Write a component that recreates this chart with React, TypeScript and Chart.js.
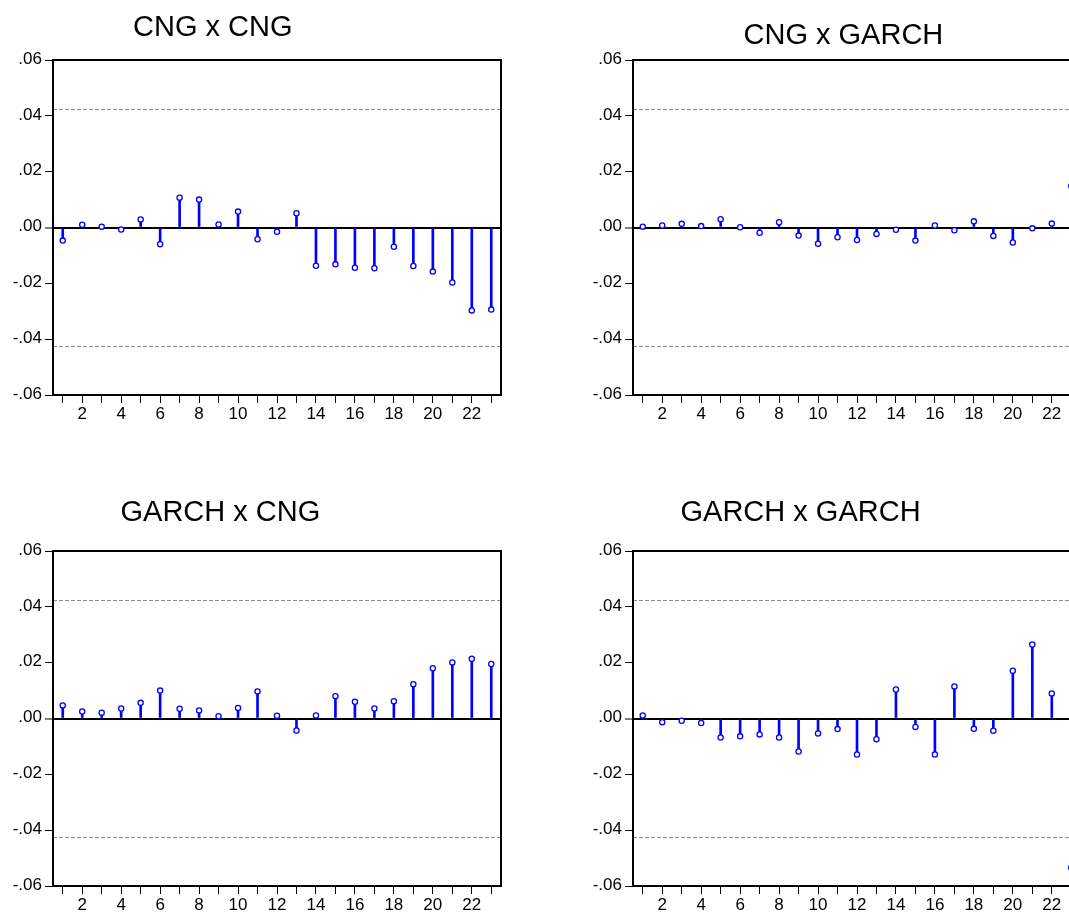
import React, { useEffect, useRef } from "react";
import { Chart, registerables } from "chart.js";

Chart.register(...registerables);

// ---- data ----
const LAGS = [1, 2, 3, 4, 5, 6, 7, 8, 9, 10, 11, 12, 13, 14, 15, 16, 17, 18, 19, 20, 21, 22, 23];
const X_TICK_LABELS = ["", "2", "", "4", "", "6", "", "8", "", "10", "", "12", "", "14", "", "16", "", "18", "", "20", "", "22", ""];
const Y_TICKS = [-0.06, -0.04, -0.02, 0, 0.02, 0.04, 0.06];
const Y_TICK_LABELS = ["-.06", "-.04", "-.02", ".00", ".02", ".04", ".06"];
const BAND = 0.0425;

const CNG_CNG = [
  -0.0047, 0.001, 0.0003, -0.0007, 0.0029, -0.006, 0.0107, 0.01, 0.0011, 0.0057, -0.0042, -0.0015,
  0.0051, -0.0137, -0.0132, -0.0144, -0.0146, -0.0069, -0.0138, -0.0158, -0.0197, -0.0297, -0.0294,
];
const CNG_GARCH = [
  0.0003, 0.0007, 0.0013, 0.0005, 0.003, 0.0001, -0.0019, 0.0019, -0.0029, -0.0058, -0.0035, -0.0045,
  -0.0023, -0.0008, -0.0047, 0.0007, -0.001, 0.0022, -0.003, -0.0054, -0.0003, 0.0014, 0.0149,
];
const GARCH_CNG = [
  0.0047, 0.0025, 0.0021, 0.0036, 0.0056, 0.01, 0.0035, 0.0029, 0.0008, 0.0038, 0.0097, 0.001,
  -0.0043, 0.0011, 0.008, 0.006, 0.0036, 0.0062, 0.0123, 0.018, 0.0201, 0.0214, 0.0195,
];
const GARCH_GARCH = [
  0.0011, -0.0013, -0.0008, -0.0016, -0.0068, -0.0064, -0.0057, -0.0068, -0.0118, -0.0054, -0.0038, -0.0129,
  -0.0074, 0.0104, -0.003, -0.0129, 0.0115, -0.0037, -0.0044, 0.0171, 0.0265, 0.009, -0.0534,
];

const TITLES = ["CNG x CNG", "CNG x GARCH", "GARCH x CNG", "GARCH x GARCH"];

const FONT = '"Liberation Sans", Arial, Helvetica, sans-serif';
const BLUE = "#0000ff";

const framePlugin = {
  id: "frame",
  beforeDatasetsDraw(chart: any) {
    const { ctx, chartArea, scales } = chart;
    const y = scales.y;
    ctx.save();
    ctx.strokeStyle = "#8c8c8c";
    ctx.lineWidth = 1;
    ctx.setLineDash([4, 2]);
    [BAND, -BAND].forEach((v) => {
      const py = Math.round(y.getPixelForValue(v)) + 0.5;
      ctx.beginPath();
      ctx.moveTo(chartArea.left, py);
      ctx.lineTo(chartArea.right, py);
      ctx.stroke();
    });
    ctx.restore();
  },
  afterDraw(chart: any) {
    const { ctx, chartArea } = chart;
    ctx.save();
    ctx.strokeStyle = "#000";
    ctx.lineWidth = 2;
    ctx.strokeRect(chartArea.left, chartArea.top, chartArea.right - chartArea.left, chartArea.bottom - chartArea.top);
    ctx.restore();
  },
};

function Panel({ values, left, top }: { values: number[]; left: number; top: number }) {
  const ref = useRef<HTMLCanvasElement | null>(null);
  useEffect(() => {
    if (!ref.current) return;
    const pts = LAGS.map((l, i) => ({ x: l, y: values[i] }));
    const chart = new Chart(ref.current, {
      type: "bar",
      data: {
        datasets: [
          {
            type: "scatter",
            data: pts,
            pointRadius: 2.6,
            pointBackgroundColor: "#ffffff",
            pointBorderColor: BLUE,
            pointBorderWidth: 1.3,
            order: 0,
          } as any,
          {
            type: "bar",
            data: pts,
            backgroundColor: BLUE,
            barThickness: 2,
            borderWidth: 0,
            order: 1,
          } as any,
        ],
      },
      options: {
        animation: false,
        responsive: false,
        maintainAspectRatio: false,
        events: [],
        layout: { padding: { left: 0, top: 60, right: 19, bottom: 5 } },
        plugins: { legend: { display: false }, tooltip: { enabled: false }, title: { display: false } },
        scales: {
          x: {
            type: "linear",
            offset: false,
            min: 0.5,
            max: 23.5,
            afterBuildTicks: (s: any) => {
              s.ticks = LAGS.map((v) => ({ value: v }));
            },
            afterFit: (s: any) => {
              s.height = 30;
            },
            ticks: {
              autoSkip: false,
              maxRotation: 0,
              callback: (_v: any, i: number) => X_TICK_LABELS[i],
              font: { family: FONT, size: 17 },
              color: "#000",
              padding: 1,
            },
            grid: { offset: false, drawOnChartArea: false, drawTicks: true, tickLength: 8, tickColor: "#000", tickWidth: 1 },
            border: { display: false },
          },
          y: {
            type: "linear",
            min: -0.06,
            max: 0.06,
            afterBuildTicks: (s: any) => {
              s.ticks = Y_TICKS.map((v) => ({ value: v }));
            },
            afterFit: (s: any) => {
              s.width = 53;
            },
            ticks: {
              callback: (_v: any, i: number) => Y_TICK_LABELS[i],
              font: { family: FONT, size: 17 },
              color: "#000",
              padding: 3,
              labelOffset: -1,
            },
            grid: {
              drawOnChartArea: true,
              color: (c: any) => (c.tick && c.tick.value === 0 ? "#000" : "rgba(0,0,0,0)"),
              lineWidth: (c: any) => (c.tick && c.tick.value === 0 ? 2 : 1),
              tickLength: 8,
              tickColor: "#000",
              tickWidth: 1,
            },
            border: { display: false },
          },
        },
      } as any,
      plugins: [framePlugin],
    });
    return () => chart.destroy();
  }, [values]);
  return (
    <canvas
      ref={ref}
      width={520}
      height={430}
      style={{ position: "absolute", left, top, width: 520, height: 430 }}
    />
  );
}

const titleStyle = (left: number, top: number): React.CSSProperties => ({
  position: "absolute",
  left,
  top,
  fontFamily: FONT,
  fontSize: 29,
  lineHeight: "29px",
  color: "#000",
  whiteSpace: "nowrap",
});

export default function App() {
  return (
    <div
      style={{
        position: "fixed",
        left: 0,
        top: 0,
        width: 1069,
        height: 913,
        overflow: "hidden",
        background: "#fff",
      }}
    >
      <Panel values={CNG_CNG} left={0} top={0} />
      <Panel values={CNG_GARCH} left={580} top={0} />
      <Panel values={GARCH_CNG} left={0} top={491} />
      <Panel values={GARCH_GARCH} left={580} top={491} />
      <div style={titleStyle(133, 11.5)}>{TITLES[0]}</div>
      <div style={titleStyle(743.5, 19.5)}>{TITLES[1]}</div>
      <div style={titleStyle(120.5, 496.5)}>{TITLES[2]}</div>
      <div style={titleStyle(680.5, 496.5)}>{TITLES[3]}</div>
    </div>
  );
}
